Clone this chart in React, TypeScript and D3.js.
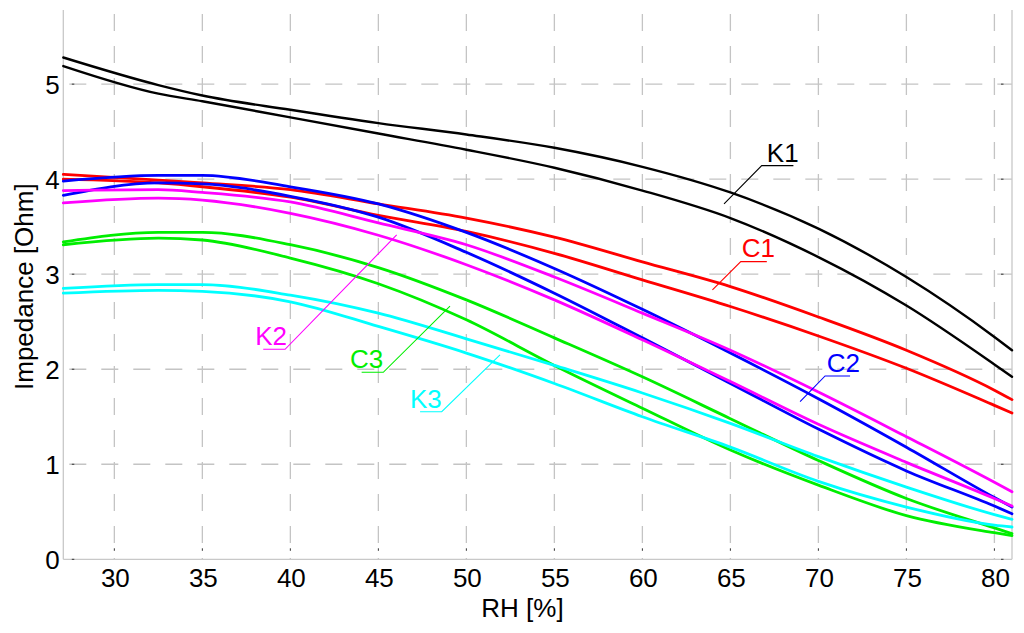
import React from 'react';
import * as d3 from 'd3';

// Relative humidity sample points [%]
const RH = [27.1, 32.5, 35, 40, 45, 50, 55, 60, 65, 70, 75, 80, 81];

// Impedance [Ohm] – each sample has two branches (a / b)
const K1_a = [5.28, 4.99, 4.88, 4.73, 4.59, 4.47, 4.33, 4.13, 3.86, 3.48, 2.97, 2.34, 2.2];
const K1_b = [5.19, 4.9, 4.82, 4.65, 4.48, 4.31, 4.12, 3.88, 3.59, 3.18, 2.67, 2.05, 1.92];
const C1_a = [4.05, 3.99, 3.96, 3.89, 3.74, 3.59, 3.39, 3.13, 2.87, 2.55, 2.2, 1.78, 1.68];
const C1_b = [4.0, 3.96, 3.92, 3.81, 3.62, 3.45, 3.22, 2.94, 2.66, 2.35, 2.01, 1.62, 1.54];
const C2_a = [3.98, 4.04, 4.04, 3.92, 3.74, 3.44, 3.06, 2.63, 2.17, 1.69, 1.18, 0.65, 0.55];
const C2_b = [3.83, 3.96, 3.95, 3.82, 3.6, 3.23, 2.8, 2.33, 1.85, 1.37, 0.93, 0.56, 0.48];
const K2_a = [3.88, 3.89, 3.86, 3.76, 3.54, 3.31, 2.97, 2.59, 2.2, 1.76, 1.29, 0.81, 0.71];
const K2_b = [3.75, 3.8, 3.78, 3.64, 3.41, 3.1, 2.73, 2.31, 1.87, 1.42, 1.02, 0.64, 0.56];
const C3_a = [3.34, 3.44, 3.44, 3.31, 3.07, 2.73, 2.33, 1.92, 1.48, 1.04, 0.64, 0.33, 0.27];
const C3_b = [3.31, 3.38, 3.36, 3.17, 2.9, 2.52, 2.04, 1.59, 1.15, 0.78, 0.46, 0.28, 0.25];
const K3_a = [2.85, 2.89, 2.89, 2.78, 2.59, 2.32, 2.04, 1.75, 1.43, 1.08, 0.76, 0.47, 0.42];
const K3_b = [2.8, 2.83, 2.82, 2.71, 2.45, 2.17, 1.85, 1.5, 1.18, 0.82, 0.55, 0.36, 0.34];

const SERIES_NAMES = ['K1', 'C1', 'C2', 'K2', 'C3', 'K3'];
const SERIES_COLORS = ['#000000', '#ff0000', '#0000ff', '#ff00ff', '#00ee00', '#00ffff'];
const SERIES_VALUES = [
  [K1_a, K1_b],
  [C1_a, C1_b],
  [C2_a, C2_b],
  [K2_a, K2_b],
  [C3_a, C3_b],
  [K3_a, K3_b],
];

const X_TICKS = [30, 35, 40, 45, 50, 55, 60, 65, 70, 75, 80];
const Y_TICKS = [0, 1, 2, 3, 4, 5];

// Annotation callouts (data coordinates): tip of leader, elbow, far end of underline, text x, baseline
const CALLOUTS = [
  { name: 'K1', tip: [64.64, 3.74], elbow: [66.78, 4.142], end: 68.58, tx: 67.07, ty: 4.184, anchor: 'start' },
  { name: 'C1', tip: [63.98, 2.834], elbow: [65.59, 3.132], end: 67.07, tx: 65.65, ty: 3.184, anchor: 'start' },
  { name: 'C2', tip: [68.96, 1.658], elbow: [70.38, 1.929], end: 71.8, tx: 70.47, ty: 1.974, anchor: 'start' },
  { name: 'K2', tip: [46.04, 3.413], elbow: [39.7, 2.21], end: 38.46, tx: 39.81, ty: 2.255, anchor: 'end' },
  { name: 'C3', tip: [49.07, 2.665], elbow: [45.28, 1.968], end: 44.05, tx: 45.28, ty: 2.01, anchor: 'end' },
  { name: 'K3', tip: [51.91, 2.15], elbow: [48.6, 1.553], end: 47.37, tx: 48.6, ty: 1.589, anchor: 'end' },
];

const FONT = "'Liberation Sans', Arial, Helvetica, sans-serif";

export default function App() {
  const W = 1024;
  const H = 633;
  const left = 63.3;
  const right = 1012;
  const top = 10;
  const bottom = 559.3;

  const x = d3.scaleLinear().domain([27.1, 81]).range([left, right]);
  const y = d3.scaleLinear().domain([0, 5.78]).range([bottom, top]);

  const line = d3
    .line<number>()
    .x((_, i) => x(RH[i]))
    .y((d) => y(d))
    .curve(d3.curveMonotoneX);

  const gridColor = '#c4c4c4';
  const axisColor = '#c8c8c8';

  return (
    <svg
      width={W}
      height={H}
      viewBox={`0 0 ${W} ${H}`}
      style={{ position: 'absolute', left: 0, top: 0, background: '#fff' }}
    >
      <rect x={0} y={0} width={W} height={H} fill="#fff" />
      {/* grid */}
      <g stroke={gridColor} strokeWidth={1.3} strokeDasharray="17,15" fill="none">
        {Y_TICKS.filter((t) => t > 0).map((t) => (
          <line key={'gy' + t} x1={left} x2={right} y1={y(t)} y2={y(t)} strokeDashoffset={-6} />
        ))}
        {X_TICKS.map((t) => (
          <line key={'gx' + t} x1={x(t)} x2={x(t)} y1={top + 4} y2={bottom} />
        ))}
      </g>
      {/* axes frame */}
      <g stroke={axisColor} strokeWidth={1.3}>
        <line x1={left} x2={left} y1={top} y2={bottom} />
        <line x1={left} x2={right} y1={bottom} y2={bottom} />
        <line x1={right} x2={right} y1={top} y2={bottom} />
      </g>
      {/* tiny tick marks */}
      <g stroke="#333" strokeWidth={1}>
        {Y_TICKS.map((t) => (
          <g key={'ty' + t}>
            <line x1={left + 8.5} x2={left + 11} y1={y(t)} y2={y(t)} />
            <line x1={right - 11} x2={right - 8.5} y1={y(t)} y2={y(t)} />
          </g>
        ))}
        {X_TICKS.map((t) => (
          <line key={'tx' + t} x1={x(t)} x2={x(t)} y1={bottom - 11} y2={bottom - 8.5} />
        ))}
      </g>
      {/* data lines */}
      <g fill="none" strokeLinejoin="round" strokeLinecap="round">
        {SERIES_VALUES.map((pair, si) =>
          pair.map((vals, bi) => (
            <path
              key={SERIES_NAMES[si] + bi}
              d={line(vals) || ''}
              stroke={SERIES_COLORS[si]}
              strokeWidth={si === 0 ? 2.4 : 2.8}
            />
          ))
        )}
      </g>
      {/* callouts */}
      {CALLOUTS.map((c) => {
        const color = SERIES_COLORS[SERIES_NAMES.indexOf(c.name)];
        return (
          <g key={c.name}>
            <polyline
              points={`${x(c.tip[0])},${y(c.tip[1])} ${x(c.elbow[0])},${y(c.elbow[1])} ${x(c.end)},${y(c.elbow[1])}`}
              fill="none"
              stroke={color}
              strokeWidth={1.1}
            />
            <text
              x={x(c.tx)}
              y={y(c.ty)}
              fill={color}
              fontFamily={FONT}
              fontSize={26}
              textAnchor={c.anchor}
            >
              {c.name}
            </text>
          </g>
        );
      })}
      {/* tick labels */}
      <g fontFamily={FONT} fontSize={26} fill="#000">
        {Y_TICKS.map((t) => (
          <text key={'ly' + t} x={left - 3.5} y={y(t) + 10} textAnchor="end">
            {t}
          </text>
        ))}
        {X_TICKS.map((t) => (
          <text key={'lx' + t} x={x(t) + 1} y={586.7} textAnchor="middle">
            {t}
          </text>
        ))}
        <text x={522.5} y={616.7} textAnchor="middle">
          RH [%]
        </text>
        <text transform={`translate(33,${(top + bottom) / 2 + 2}) rotate(-90)`} textAnchor="middle">
          Impedance [Ohm]
        </text>
      </g>
    </svg>
  );
}
